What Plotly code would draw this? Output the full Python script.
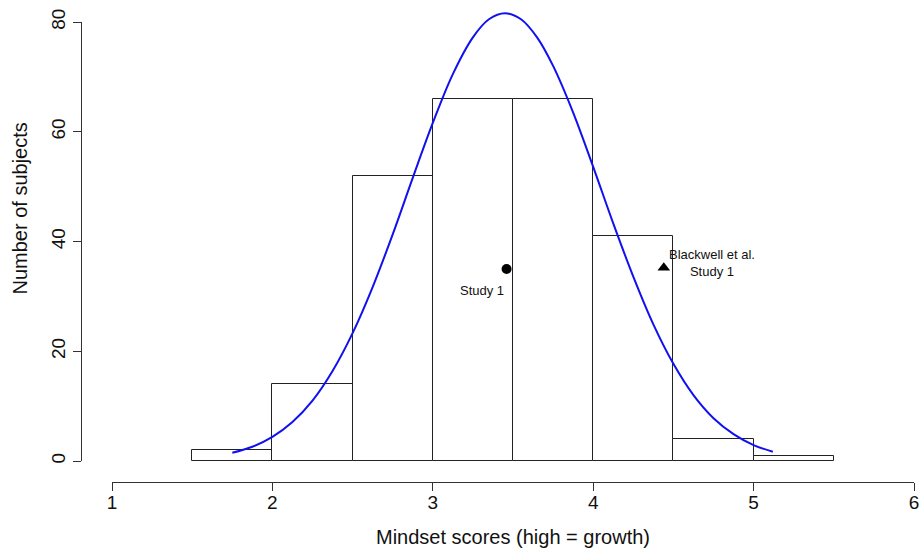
import plotly.graph_objects as go

# ---- data ----
bin_centers = [1.75, 2.25, 2.75, 3.25, 3.75, 4.25, 4.75, 5.25]
bin_counts = [2, 14, 52, 66, 66, 41, 4, 1]
bin_width = 0.5

# fitted normal curve
curve_x = [1.75, 1.875, 2.0, 2.125, 2.25, 2.375, 2.5, 2.625, 2.75, 2.875, 3.0, 3.125,
           3.25, 3.35, 3.45, 3.55, 3.65, 3.75, 3.875, 4.0, 4.125, 4.25, 4.375, 4.5,
           4.625, 4.75, 4.875, 5.0, 5.12]
curve_y = [1.5, 2.6, 4.4, 7.1, 11.0, 16.4, 23.3, 31.7, 41.3, 51.6, 61.6, 70.5,
           77.2, 80.5, 81.6, 80.5, 77.2, 72.0, 63.5, 53.6, 43.3, 33.6, 24.9, 17.7,
           12.0, 7.8, 4.9, 2.9, 1.7]

study1_x = [3.46]
study1_y = [35.0]
blackwell_x = [4.44]
blackwell_y = [35.2]

x_ticks = [1, 2, 3, 4, 5, 6]
y_ticks = [0, 20, 40, 60, 80]

FONT = "Liberation Sans, Arial, sans-serif"

fig = go.Figure()

fig.add_trace(go.Bar(
    x=bin_centers, y=bin_counts, width=bin_width,
    marker=dict(color="white", line=dict(color="#222222", width=1)),
    showlegend=False, hoverinfo="skip",
))

fig.add_trace(go.Scatter(
    x=curve_x, y=curve_y, mode="lines",
    line=dict(color="#1010f0", width=2, shape="spline", smoothing=1.0),
    showlegend=False, hoverinfo="skip",
))

fig.add_trace(go.Scatter(
    x=study1_x, y=study1_y, mode="markers",
    marker=dict(symbol="circle", size=10, color="black"),
    showlegend=False, hoverinfo="skip",
))

fig.add_trace(go.Scatter(
    x=blackwell_x, y=blackwell_y, mode="markers",
    marker=dict(symbol="triangle-up", size=11, color="black"),
    showlegend=False, hoverinfo="skip",
))

# dummy trace to create the decorative R-style axes
fig.add_trace(go.Scatter(
    x=[None], y=[None], xaxis="x2", yaxis="y2", mode="markers",
    showlegend=False, hoverinfo="skip",
))

W, H = 920, 549
ml, mr, mt, mb = 81, 6, 8, 67
pw, ph = W - ml - mr, H - mt - mb

px_per_x = 160.4
px_per_y = 5.4875
x0_px = 112 - ml          # position of x=1 inside plot area
y0_px = 482 - 461         # position of y=0 above bottom of plot area

fig.update_layout(
    width=W, height=H,
    margin=dict(l=ml, r=mr, t=mt, b=mb, pad=0, autoexpand=False),
    paper_bgcolor="white", plot_bgcolor="rgba(0,0,0,0)",
    bargap=0,
    font=dict(family=FONT, color="#111111"),
    xaxis=dict(
        domain=[0, 1],
        range=[1 - x0_px / px_per_x, 1 + (pw - x0_px) / px_per_x],
        visible=False, fixedrange=True, automargin=False,
    ),
    yaxis=dict(
        domain=[0, 1],
        range=[-y0_px / px_per_y, (ph - y0_px) / px_per_y],
        visible=False, fixedrange=True, automargin=False,
    ),
    xaxis2=dict(
        domain=[x0_px / pw, 1],
        range=[1, 6],
        anchor="free", position=0, automargin=False,
        showline=True, linecolor="#333333", linewidth=1,
        ticks="outside", ticklen=8, tickwidth=1, tickcolor="#333333",
        ticklabelstandoff=-5,
        tickvals=x_ticks, ticktext=[str(v) for v in x_ticks],
        tickfont=dict(size=19, family=FONT, color="#111111"),
        showgrid=False, zeroline=False, fixedrange=True,
    ),
    yaxis2=dict(
        domain=[y0_px / ph, (482 - 22) / ph],
        range=[0, 80],
        anchor="free", position=0, automargin=False,
        showline=True, linecolor="#333333", linewidth=1,
        ticks="outside", ticklen=8, tickwidth=1, tickcolor="#333333",
        tickvals=y_ticks, ticktext=[str(v) for v in y_ticks],
        tickangle=-90,
        tickfont=dict(size=19, family=FONT, color="#111111"),
        showgrid=False, zeroline=False, fixedrange=True,
    ),
    annotations=[
        dict(text="Mindset scores (high = growth)", xref="x", yref="paper",
             x=3.5, y=0, yshift=-55, showarrow=False,
             xanchor="center", yanchor="middle",
             font=dict(size=20, family=FONT, color="#111111")),
        dict(text="Number of subjects", xref="paper", yref="paper",
             x=0, xshift=-61.5, y=(482 - 209) / ph, textangle=-90,
             showarrow=False, xanchor="center", yanchor="middle",
             font=dict(size=20, family=FONT, color="#111111")),
        dict(text="Study 1", xref="x", yref="y",
             x=study1_x[0], y=study1_y[0], xshift=-25, yshift=-22,
             showarrow=False, xanchor="center", yanchor="middle",
             font=dict(size=13, family=FONT, color="#111111")),
        dict(text="Blackwell et al.<br>Study 1", xref="x", yref="y",
             x=blackwell_x[0], y=blackwell_y[0], xshift=48, yshift=4.5,
             showarrow=False, xanchor="center", yanchor="middle", align="center",
             font=dict(size=13, family=FONT, color="#111111")),
    ],
)

fig.write_html(
    "out.html",
    config={"displayModeBar": False},
    post_script="document.body.style.margin='0px';document.body.style.overflow='hidden';",
)
